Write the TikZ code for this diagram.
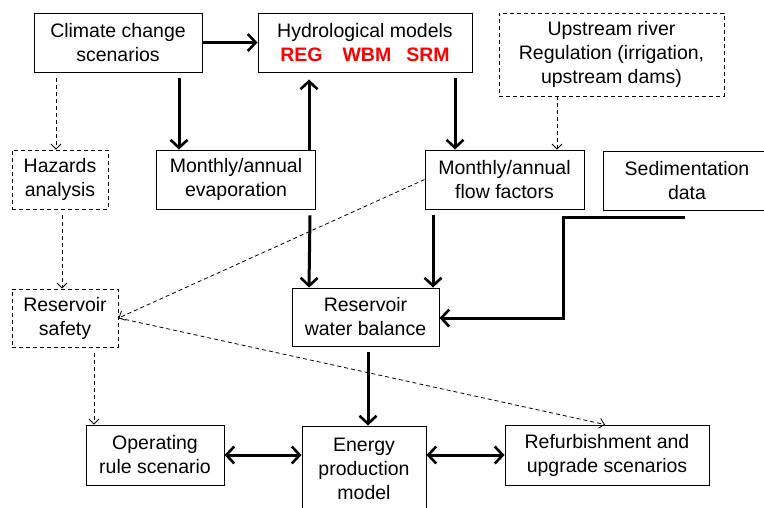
\documentclass[tikz,border=0pt]{standalone}
\usepackage{fontspec}
\setmainfont{Liberation Sans}
\usetikzlibrary{arrows.meta}
\begin{document}
\begin{tikzpicture}[x=1pt,y=-1pt,
  box/.style={draw,line width=0.9pt,inner sep=0pt,align=center,font=\fontsize{19.5}{24}\selectfont},
  dbox/.style={box,dashed,dash pattern=on 4pt off 3pt},
  thickarr/.style={line width=3pt,-{Straight Barb[length=8pt,width=17pt,line width=2.6pt]}},
  dbl/.style={line width=3pt,{Straight Barb[length=8pt,width=17pt,line width=2.6pt]}-{Straight Barb[length=8pt,width=17pt,line width=2.6pt]}},
  darr/.style={line width=0.8pt,dash pattern=on 4pt off 3pt,-{Straight Barb[length=5pt,width=10pt,line width=0.8pt]}}
]
\useasboundingbox (0,0) rectangle (764,507);
\node[box,minimum width=168pt,minimum height=59pt] (clim) at (118,42.5) {Climate change\\scenarios};
\node[box,minimum width=214pt,minimum height=59pt] (hydro) at (365,42.5) {Hydrological models\\\textcolor{red}{\textbf{REG\hspace{20pt}WBM\hspace{15pt}SRM}}};
\node[dbox,minimum width=225pt,minimum height=83pt] (up) at (611.5,54.5) {Upstream river\\Regulation (irrigation,\\upstream dams)};
\node[dbox,minimum width=96pt,minimum height=59pt] (haz) at (60,179.5) {Hazards\\analysis};
\node[box,minimum width=159pt,minimum height=59pt] (evap) at (236,179.5) {Monthly/annual\\evaporation};
\node[box,minimum width=159pt,minimum height=59pt] (flow) at (504.5,179.5) {Monthly/annual\\flow factors};
\node[box,minimum width=168pt,minimum height=59pt] (sed) at (687,180.5) {Sedimentation\\data};
\node[dbox,minimum width=106pt,minimum height=58pt] (safe) at (65,318) {Reservoir\\safety};
\node[box,minimum width=147pt,minimum height=58pt] (wb) at (365.5,317) {Reservoir\\water balance};
\node[box,minimum width=138pt,minimum height=60pt] (op) at (155,455) {Operating\\rule scenario};
\node[box,minimum width=124pt,minimum height=86pt] (en) at (364,469) {Energy\\production\\model};
\node[box,minimum width=204pt,minimum height=60pt] (ref) at (607,455) {Refurbishment and\\upgrade scenarios};

% thick arrows
\draw[thickarr] (clim.east) -- (hydro.west);
\draw[thickarr] ([xshift=61pt,yshift=-6pt]clim.south) -- ([xshift=-57pt]evap.north);
\draw[thickarr] ([xshift=73pt]evap.north) -- ([xshift=-56pt,yshift=-7pt]hydro.south);
\draw[thickarr] ([xshift=90pt,yshift=-6pt]hydro.south) -- ([xshift=-49.5pt]flow.north);
\draw[thickarr] ([xshift=74pt,yshift=-6pt]evap.south) -- ([xshift=-56.5pt]wb.north);
\draw[thickarr] ([xshift=-71.5pt,yshift=-6pt]flow.south) -- ([xshift=67.5pt]wb.north);
\coordinate (sedA) at ([xshift=-2pt,yshift=-7pt]sed.south);
\coordinate (sedB) at (563,318);
\draw[thickarr] (sedA) -| (sedB) -- (wb.east |- sedB);
\draw[thickarr] ([xshift=2.5pt,yshift=-6pt]wb.south) -- ([xshift=4pt]en.north);
\draw[dbl] (op.east) -- (op.east -| en.west);
\draw[dbl] (op.east -| en.east) -- (ref.west);

% dashed arrows
\draw[darr] ([xshift=-62pt,yshift=-6pt]clim.south) -- ([xshift=-4pt]haz.north);
\draw[darr] (up.south) ++(-54.5,0) -- ([xshift=52.5pt]flow.north);
\draw[darr] ([xshift=2pt,yshift=-6pt]haz.south) -- ([xshift=-3pt]safe.north);
\draw[darr] (flow.west) -- (safe.east);
\draw[darr] ([xshift=29pt,yshift=-6pt]safe.south) -- ([xshift=-61pt]op.north);
\draw[darr] (safe.east) -- ([xshift=-2pt]ref.north);
\end{tikzpicture}
\end{document}
